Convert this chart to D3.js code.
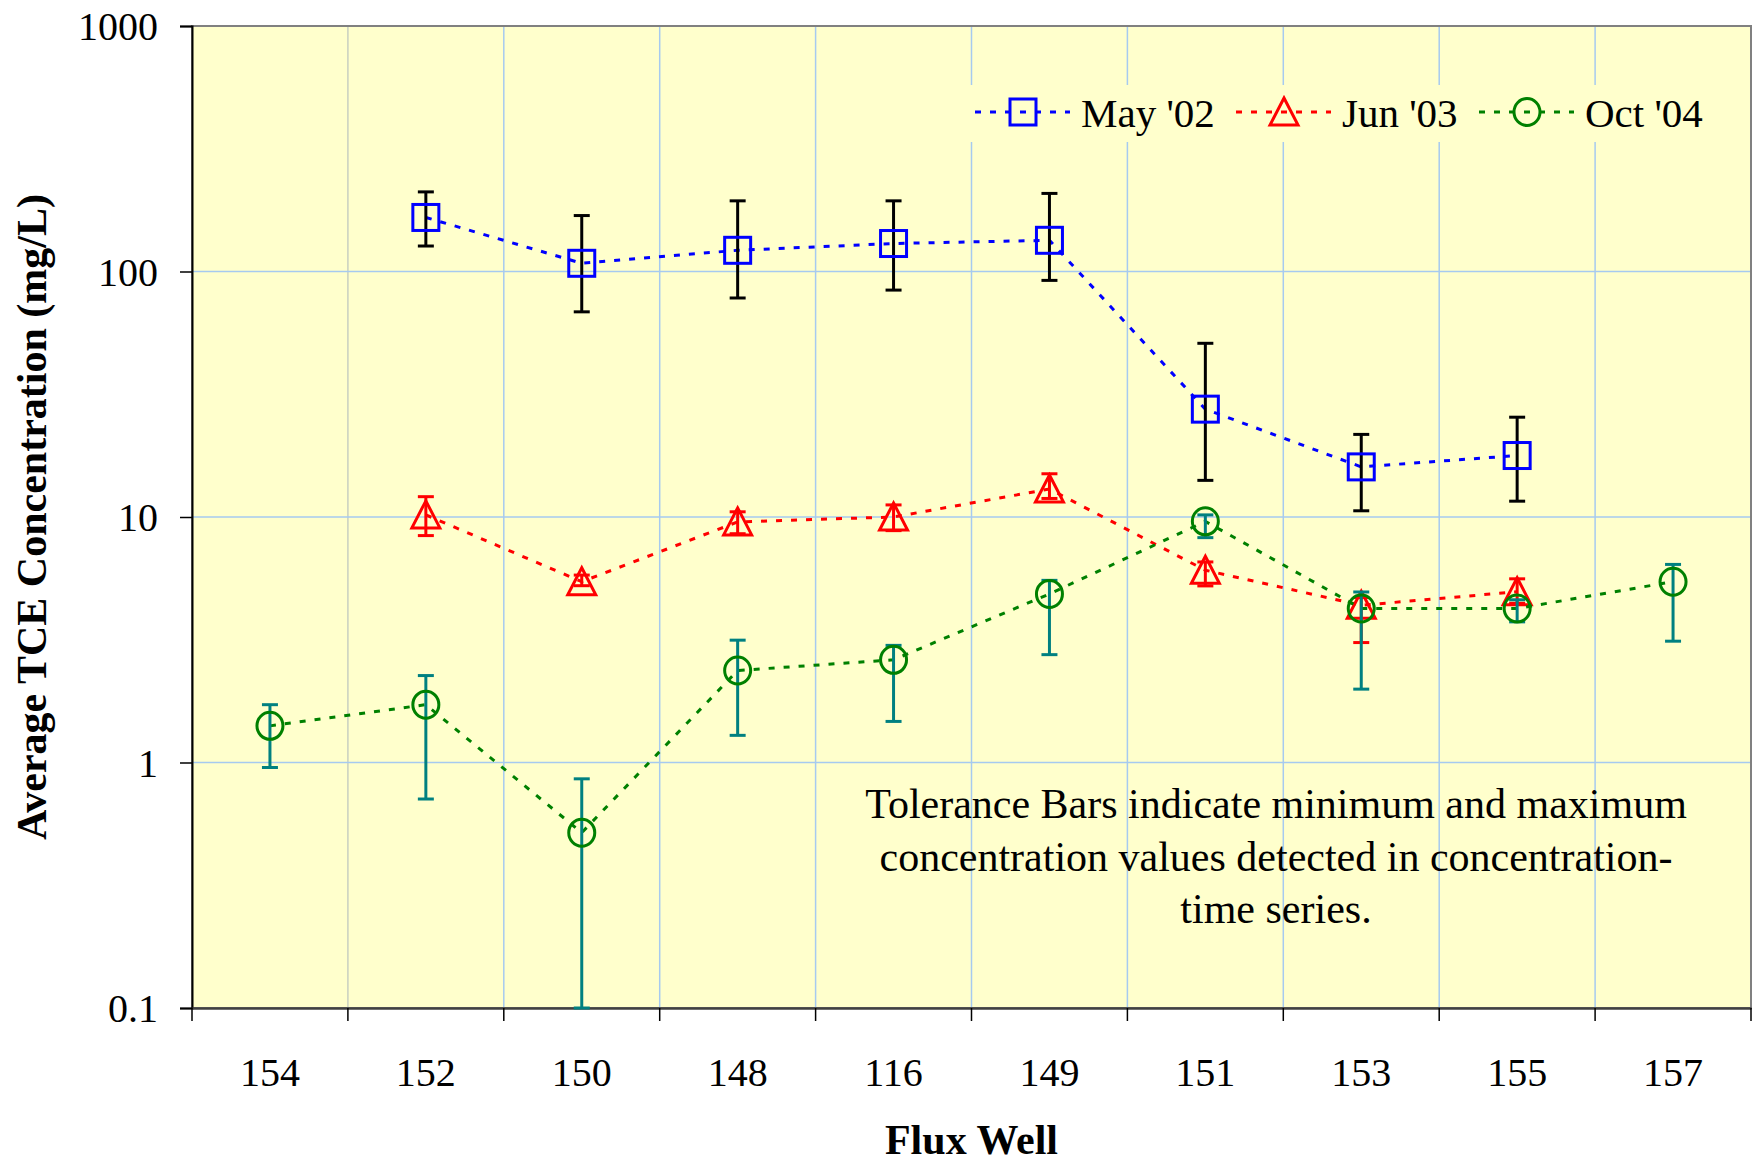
<!DOCTYPE html>
<html>
<head>
<meta charset="utf-8">
<script src="https://cdn.jsdelivr.net/npm/d3@7"></script>
<style>
  body { margin: 0; background: #ffffff; }
  svg text { font-family: "Liberation Serif", "Times New Roman", serif; fill: #000; }
</style>
</head>
<body>
<div id="chart"></div>
<script>
/* Data */
const wells = ["154", "152", "150", "148", "116", "149", "151", "153", "155", "157"];
const yTicks = [0.1, 1, 10, 100, 1000];
const seriesNames = ["May '02", "Jun '03", "Oct '04"];

// May '02 (null = no sample)
const mayAvg = [null, 166, 108, 122, 130, 134, 27.5, 16.0, 17.8, null];
const mayMin = [null, 127, 68.5, 78, 84, 92, 14.1, 10.6, 11.6, null];
const mayMax = [null, 211, 169, 194, 194, 208, 51, 21.7, 25.5, null];

// Jun '03
const junAvg = [null, 10.2, 5.45, 9.55, 10.0, 13.0, 6.07, 4.37, 4.96, null];
const junMin = [null, 8.4, 5.25, 8.55, 8.8, 11.9, 5.24, 3.08, 4.45, null];
const junMax = [null, 12.1, 5.8, 10.5, 11.2, 15.0, 6.56, 4.7, 5.6, null];

// Oct '04
const octAvg = [1.41, 1.72, 0.518, 2.37, 2.62, 4.86, 9.6, 4.24, 4.24, 5.45];
const octMin = [0.954, 0.71, 0.1, 1.29, 1.47, 2.75, 8.24, 1.99, 3.74, 3.12];
const octMax = [1.72, 2.26, 0.858, 3.15, 3.0, 5.52, 10.2, 4.95, 4.6, 6.41];

const annotation = ["Tolerance Bars indicate minimum and maximum",
  "concentration values detected in concentration-",
  "time series."];

/* Layout */
const W = 1753, H = 1164;
const plot = { left: 192, right: 1751, top: 26, bottom: 1008 };
const fontFamily = '"Liberation Serif", "Times New Roman", serif';

const styles = [
  { line: "#0000ff", marker: "square", mColor: "#0000ff", err: "#000000" },
  { line: "#ff0000", marker: "triangle", mColor: "#ff0000", err: "#ff0000" },
  { line: "#008000", marker: "circle", mColor: "#008000", err: "#008080" }
];

const series = [
  { name: seriesNames[0], avg: mayAvg, min: mayMin, max: mayMax, style: styles[0] },
  { name: seriesNames[1], avg: junAvg, min: junMin, max: junMax, style: styles[1] },
  { name: seriesNames[2], avg: octAvg, min: octMin, max: octMax, style: styles[2] }
];

/* Scales */
const x = d3.scaleBand().domain(wells).range([plot.left, plot.right]).padding(0);
const cx = d => x(d) + x.bandwidth() / 2;
const y = d3.scaleLog().domain([0.1, 1000]).range([plot.bottom, plot.top]);

const svg = d3.select("#chart").append("svg")
  .attr("width", W)
  .attr("height", H);

// Plot background
svg.append("rect")
  .attr("x", plot.left).attr("y", plot.top)
  .attr("width", plot.right - plot.left)
  .attr("height", plot.bottom - plot.top)
  .attr("fill", "#ffffcc");

// Grid lines
const boundaries = wells.slice(1).map(d => x(d));
svg.append("g").selectAll("line").data(boundaries).join("line")
  .attr("x1", d => d).attr("x2", d => d)
  .attr("y1", plot.top).attr("y2", plot.bottom)
  .attr("stroke", (d, i) => i === 0 ? "#c8cfc0" : "#a6caf0")
  .attr("stroke-width", 1.5);

svg.append("g").selectAll("line").data([1, 10, 100]).join("line")
  .attr("x1", plot.left).attr("x2", plot.right)
  .attr("y1", d => y(d)).attr("y2", d => y(d))
  .attr("stroke", "#a6caf0").attr("stroke-width", 1.5);

// Plot frame
svg.append("rect")
  .attr("x", plot.left).attr("y", plot.top)
  .attr("width", plot.right - plot.left)
  .attr("height", plot.bottom - plot.top)
  .attr("fill", "none").attr("stroke", "#808080").attr("stroke-width", 2);

/* Axes */
const yAxis = d3.axisLeft(y)
  .tickValues(yTicks)
  .tickFormat(d => String(d))
  .tickSize(12)
  .tickPadding(22);

const gy = svg.append("g")
  .attr("transform", "translate(" + plot.left + ",0)")
  .call(yAxis);
gy.select(".domain").attr("stroke", "#000").attr("stroke-width", 2);
gy.selectAll(".tick line").attr("stroke", "#000").attr("stroke-width", 1.5);
gy.selectAll(".tick text")
  .attr("font-family", fontFamily).attr("font-size", 40).attr("dy", "0.34em");

const xAxis = d3.axisBottom(x).tickSize(0).tickPadding(50);
const gx = svg.append("g")
  .attr("transform", "translate(0," + plot.bottom + ")")
  .call(xAxis);
gx.select(".domain").attr("stroke", "#404040").attr("stroke-width", 2.5);
gx.selectAll(".tick text")
  .attr("font-family", fontFamily).attr("font-size", 40);

// Tick marks between categories
svg.append("g").selectAll("line")
  .data([plot.left].concat(boundaries, [plot.right]))
  .join("line")
  .attr("x1", d => d).attr("x2", d => d)
  .attr("y1", plot.bottom).attr("y2", plot.bottom + 13)
  .attr("stroke", "#000").attr("stroke-width", 1.5);

// Axis titles
svg.append("text")
  .attr("x", (plot.left + plot.right) / 2)
  .attr("y", 1154)
  .attr("text-anchor", "middle")
  .attr("font-size", 42).attr("font-weight", "bold")
  .text("Flux Well");

svg.append("text")
  .attr("transform", "translate(46," + 517 + ") rotate(-90)")
  .attr("text-anchor", "middle")
  .attr("font-size", 42).attr("font-weight", "bold")
  .text("Average TCE Concentration (mg/L)");

/* Markers */
function drawMarker(g, type, color, px, py) {
  if (type === "square") {
    g.append("rect")
      .attr("x", px - 13).attr("y", py - 13)
      .attr("width", 26).attr("height", 26)
      .attr("fill", "none").attr("stroke", color).attr("stroke-width", 3);
  } else if (type === "triangle") {
    g.append("path")
      .attr("d", "M" + px + "," + (py - 14) + "L" + (px + 14) + "," + (py + 13)
        + "L" + (px - 14) + "," + (py + 13) + "Z")
      .attr("fill", "none").attr("stroke", color).attr("stroke-width", 3)
      .attr("stroke-linejoin", "miter");
  } else {
    g.append("ellipse")
      .attr("cx", px).attr("cy", py).attr("rx", 13).attr("ry", 13.5)
      .attr("fill", "none").attr("stroke", color).attr("stroke-width", 3);
  }
}

/* Series */
const line = d3.line()
  .defined(d => d.v != null)
  .x(d => cx(d.w))
  .y(d => y(d.v));

series.forEach(function(s) {
  const pts = wells.map((w, i) => ({ w: w, v: s.avg[i], lo: s.min[i], hi: s.max[i] }));
  const g = svg.append("g");

  g.append("path")
    .datum(pts.filter(p => p.v != null))
    .attr("d", line)
    .attr("fill", "none")
    .attr("stroke", s.style.line)
    .attr("stroke-width", 3)
    .attr("stroke-dasharray", "6,9");

  const valid = pts.filter(p => p.v != null);
  const eb = g.append("g").attr("stroke", s.style.err).attr("stroke-width", 3);
  valid.forEach(function(p) {
    const px = cx(p.w);
    eb.append("line").attr("x1", px).attr("x2", px)
      .attr("y1", y(p.hi)).attr("y2", y(p.lo));
    [p.hi, p.lo].forEach(function(v) {
      eb.append("line").attr("x1", px - 8).attr("x2", px + 8)
        .attr("y1", y(v)).attr("y2", y(v));
    });
  });

  valid.forEach(function(p) {
    drawMarker(g, s.style.marker, s.style.mColor, cx(p.w), y(p.v));
  });
});

/* Legend */
const legend = svg.append("g");
legend.append("rect")
  .attr("x", 970).attr("y", 85).attr("width", 746).attr("height", 57)
  .attr("fill", "#ffffcc");

const legendX = [975, 1236, 1479];
series.forEach(function(s, i) {
  const lx = legendX[i], ly = 112;
  legend.append("line")
    .attr("x1", lx).attr("x2", lx + 95)
    .attr("y1", ly).attr("y2", ly)
    .attr("stroke", s.style.line).attr("stroke-width", 3)
    .attr("stroke-dasharray", "6,9");
  drawMarker(legend, s.style.marker, s.style.mColor, lx + 48, ly);
  legend.append("text")
    .attr("x", lx + 106).attr("y", 127)
    .attr("font-size", 41)
    .text(s.name);
});

/* Annotation */
svg.append("g").selectAll("text").data(annotation).join("text")
  .attr("x", 1276)
  .attr("y", (d, i) => 818 + i * 52.5)
  .attr("text-anchor", "middle")
  .attr("font-size", 42)
  .text(d => d);
</script>
</body>
</html>
